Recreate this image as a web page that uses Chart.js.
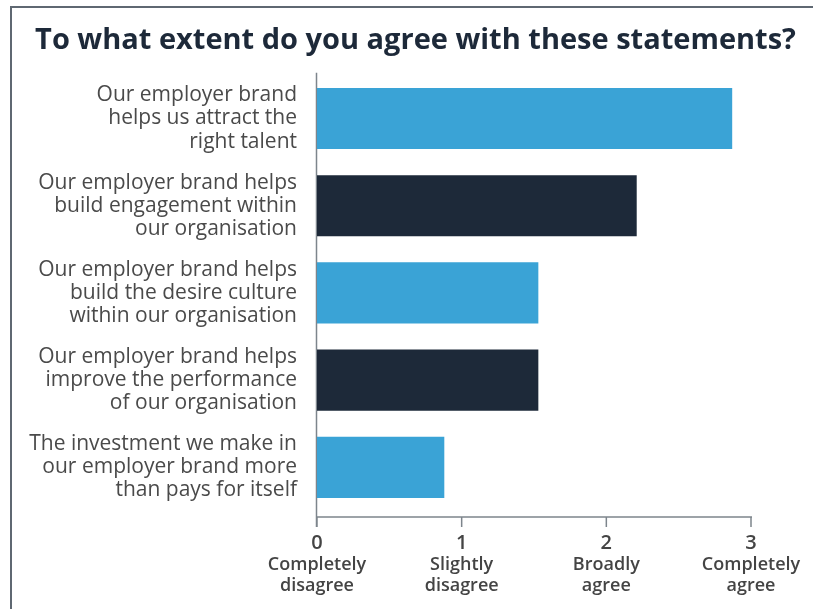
<!DOCTYPE html>
<html>
<head>
<meta charset="utf-8">
<script src="https://cdn.jsdelivr.net/npm/chart.js@4/dist/chart.umd.min.js"></script>
<style>
  html, body { margin: 0; padding: 0; background: #fff; }
  #wrap { position: relative; width: 813px; height: 609px; overflow: hidden; }
  #frame {
    position: absolute; left: 10px; top: 6px; width: 900px; height: 700px;
    border-left: 2px solid #5f6872; border-top: 2px solid #5f6872;
  }
  #chart { position: absolute; left: 0; top: 0; }
</style>
</head>
<body>
<div id="wrap">
  <div id="frame"></div>
  <canvas id="chart" width="813" height="609"></canvas>
</div>
<script>
const statements = [
  ["Our employer brand", "helps us attract the", "right talent"],
  ["Our employer brand helps", "build engagement within", "our organisation"],
  ["Our employer brand helps", "build the desire culture", "within our organisation"],
  ["Our employer brand helps", "improve the performance", "of our organisation"],
  ["The investment we make in", "our employer brand more", "than pays for itself"]
];
const agreement = [2.87, 2.21, 1.53, 1.53, 0.88];
const barColors = ["#3aa3d6", "#1d2939", "#3aa3d6", "#1d2939", "#3aa3d6"];
const scaleNumbers = ["0", "1", "2", "3"];
const scaleWords = [
  ["Completely", "disagree"],
  ["Slightly", "disagree"],
  ["Broadly", "agree"],
  ["Completely", "agree"]
];

// axis lines sit a little outside the plot area, so draw them by hand
const axisLines = {
  id: "axisLines",
  beforeDatasetsDraw(chart) {
    const { ctx, chartArea, scales } = chart;
    const x0 = chartArea.left - 0.5;
    const baseY = chartArea.bottom + 6;
    ctx.save();
    ctx.strokeStyle = "#7d858c";
    ctx.lineWidth = 1.5;
    ctx.beginPath();
    ctx.moveTo(x0, chartArea.top - 2);
    ctx.lineTo(x0, baseY + 10);
    ctx.moveTo(x0, baseY);
    ctx.lineTo(scales.x.getPixelForValue(3) + 1, baseY);
    scales.x.ticks.forEach(t => {
      const px = scales.x.getPixelForValue(t.value);
      ctx.moveTo(px, baseY);
      ctx.lineTo(px, baseY + 10);
    });
    ctx.stroke();
    ctx.restore();
  }
};

// rightPad keeps room for the last label while the title uses the full width
const bottomAxis = (size, padding, height, labels, lineHeight, rightPad) => ({
  position: "bottom",
  min: 0,
  max: 3,
  ticks: {
    stepSize: 1,
    color: "#444",
    padding,
    maxRotation: 0,
    font: { family: "Open Sans", size, weight: "600", lineHeight },
    callback: v => labels[v]
  },
  grid: { display: false, drawTicks: false },
  border: { display: false },
  afterFit: s => { s.height = height; s.paddingLeft = 0; s.paddingRight = rightPad; }
});

new Chart(document.getElementById("chart"), {
  type: "bar",
  data: {
    labels: statements,
    datasets: [{
      data: agreement,
      backgroundColor: barColors,
      categoryPercentage: 1,
      barPercentage: 0.7
    }]
  },
  options: {
    indexAxis: "y",
    responsive: false,
    animation: false,
    layout: { padding: { left: 18, right: 0, top: 0, bottom: 0 } },
    plugins: {
      legend: { display: false },
      tooltip: { enabled: false },
      title: {
        display: true,
        text: "To what extent do you agree with these statements?",
        align: "center",
        color: "#1d2939",
        font: { family: "Open Sans", size: 29, weight: "bold" },
        padding: { top: 23, bottom: 17 }
      }
    },
    scales: {
      x: bottomAxis(20, 20, 44, scaleNumbers, 1.2, 62),
      x2: bottomAxis(18, 0, 54, scaleWords, 1.15, 0),
      y: {
        ticks: {
          color: "#4a4a4a",
          padding: 20,
          font: { family: "Open Sans", size: 21, lineHeight: 1.1 }
        },
        grid: { display: false, drawTicks: false },
        border: { display: false },
        afterFit: s => { s.width = 299; }
      }
    }
  },
  plugins: [axisLines]
});
</script>
</body>
</html>
